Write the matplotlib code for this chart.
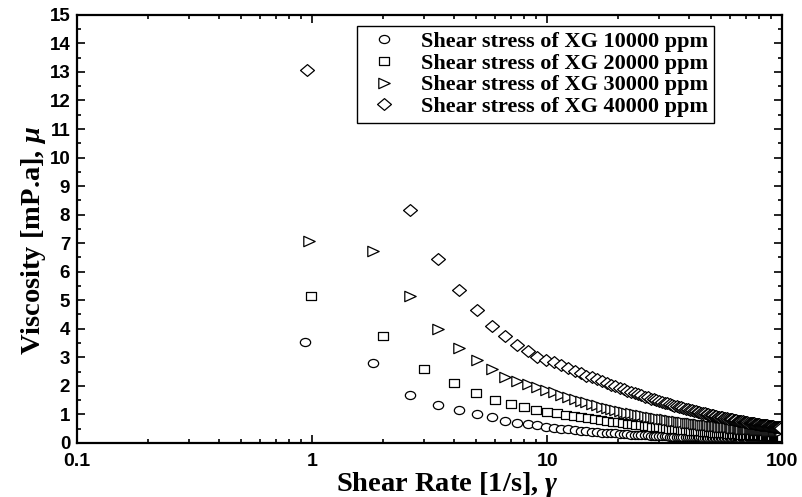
import numpy as np
import matplotlib
matplotlib.use('Agg')
import matplotlib.pyplot as plt
from matplotlib.path import Path
from matplotlib.transforms import Affine2D
from matplotlib.ticker import FixedLocator, LogLocator, MultipleLocator, NullFormatter

# shear rate sweep shared by the 10000, 30000 and 40000 ppm runs [1/s]
shear_rate = [
    1.82, 2.62, 3.43, 4.23, 5.04, 5.84, 6.65, 7.45, 8.26, 9.06,
    9.87, 10.67, 11.48, 12.28, 13.09, 13.89, 14.70, 15.50, 16.31, 17.11,
    17.92, 18.72, 19.53, 20.33, 21.14, 21.94, 22.75, 23.55, 24.36, 25.16,
    25.97, 26.77, 27.58, 28.38, 29.19, 29.99, 30.80, 31.60, 32.41, 33.21,
    34.02, 34.82, 35.63, 36.43, 37.24, 38.04, 38.85, 39.65, 40.46, 41.26,
    42.07, 42.87, 43.68, 44.48, 45.29, 46.09, 46.90, 47.70, 48.51, 49.31,
    50.12, 50.92, 51.73, 52.53, 53.34, 54.14, 54.95, 55.75, 56.56, 57.36,
    58.17, 58.97, 59.78, 60.58, 61.39, 62.19, 63.00, 63.80, 64.61, 65.41,
    66.22, 67.02, 67.83, 68.63, 69.44, 70.24, 71.05, 71.85, 72.66, 73.46,
    74.27, 75.07, 75.88, 76.68, 77.49, 78.29, 79.10, 79.90, 80.71, 81.51,
    82.32, 83.12, 83.93, 84.73, 85.54, 86.34, 87.15, 87.95, 88.76, 89.56,
    90.37, 91.17, 91.98, 92.78, 93.59, 94.39, 95.20, 96.00, 96.81, 97.61,
    98.42, 99.22,
]

# first (lowest) reading of each of those three runs
start_rate = [0.93, 0.97, 0.95]
start_viscosity = [3.53, 7.08, 13.07]

visc_10000 = [
    2.79, 1.68, 1.33, 1.16, 1.00, 0.89, 0.77, 0.69, 0.65, 0.61,
    0.57, 0.53, 0.50, 0.47, 0.45, 0.43, 0.41, 0.39, 0.37, 0.36,
    0.35, 0.34, 0.33, 0.32, 0.31, 0.30, 0.29, 0.28, 0.28, 0.27,
    0.26, 0.26, 0.25, 0.25, 0.24, 0.24, 0.24, 0.23, 0.23, 0.22,
    0.22, 0.22, 0.21, 0.21, 0.21, 0.21, 0.20, 0.20, 0.20, 0.20,
    0.19, 0.19, 0.19, 0.19, 0.19, 0.18, 0.18, 0.18, 0.18, 0.18,
    0.18, 0.17, 0.17, 0.17, 0.17, 0.17, 0.17, 0.17, 0.16, 0.16,
    0.16, 0.16, 0.16, 0.16, 0.16, 0.16, 0.16, 0.16, 0.15, 0.15,
    0.15, 0.15, 0.15, 0.15, 0.15, 0.15, 0.15, 0.15, 0.15, 0.15,
    0.14, 0.14, 0.14, 0.14, 0.14, 0.14, 0.14, 0.14, 0.14, 0.14,
    0.14, 0.14, 0.14, 0.14, 0.14, 0.14, 0.13, 0.13, 0.13, 0.13,
    0.13, 0.13, 0.13, 0.13, 0.13, 0.13, 0.13, 0.13, 0.13, 0.13,
    0.13, 0.13,
]

visc_30000 = [
    6.73, 5.13, 3.98, 3.34, 2.91, 2.58, 2.32, 2.17, 2.05, 1.95,
    1.86, 1.78, 1.69, 1.61, 1.54, 1.47, 1.42, 1.36, 1.31, 1.27,
    1.23, 1.19, 1.15, 1.12, 1.09, 1.06, 1.03, 1.01, 0.98, 0.96,
    0.94, 0.92, 0.90, 0.88, 0.86, 0.85, 0.83, 0.82, 0.80, 0.79,
    0.78, 0.76, 0.75, 0.74, 0.73, 0.72, 0.71, 0.70, 0.69, 0.68,
    0.67, 0.66, 0.65, 0.65, 0.64, 0.63, 0.62, 0.62, 0.61, 0.60,
    0.60, 0.59, 0.59, 0.58, 0.58, 0.57, 0.56, 0.56, 0.55, 0.55,
    0.54, 0.54, 0.54, 0.53, 0.53, 0.52, 0.52, 0.51, 0.51, 0.51,
    0.50, 0.50, 0.50, 0.49, 0.49, 0.49, 0.48, 0.48, 0.48, 0.47,
    0.47, 0.47, 0.47, 0.46, 0.46, 0.46, 0.45, 0.45, 0.45, 0.45,
    0.44, 0.44, 0.44, 0.44, 0.44, 0.43, 0.43, 0.43, 0.43, 0.42,
    0.42, 0.42, 0.42, 0.42, 0.41, 0.41, 0.41, 0.41, 0.41, 0.41,
    0.40, 0.40,
]

# no reading near 1.8 1/s for the 40000 ppm run
visc_40000 = [
    np.nan, 8.17, 6.44, 5.36, 4.64, 4.11, 3.73, 3.43, 3.22, 3.02,
    2.91, 2.83, 2.72, 2.62, 2.53, 2.44, 2.36, 2.29, 2.22, 2.15,
    2.09, 2.03, 1.98, 1.93, 1.88, 1.83, 1.78, 1.74, 1.70, 1.66,
    1.62, 1.59, 1.55, 1.52, 1.49, 1.46, 1.43, 1.40, 1.38, 1.35,
    1.33, 1.30, 1.28, 1.26, 1.24, 1.22, 1.20, 1.18, 1.16, 1.14,
    1.12, 1.10, 1.09, 1.07, 1.06, 1.04, 1.03, 1.01, 1.00, 0.98,
    0.97, 0.96, 0.95, 0.93, 0.92, 0.91, 0.90, 0.89, 0.88, 0.87,
    0.86, 0.85, 0.84, 0.83, 0.82, 0.81, 0.80, 0.79, 0.78, 0.77,
    0.77, 0.76, 0.75, 0.74, 0.74, 0.73, 0.72, 0.71, 0.71, 0.70,
    0.69, 0.69, 0.68, 0.67, 0.67, 0.66, 0.66, 0.65, 0.64, 0.64,
    0.63, 0.63, 0.62, 0.62, 0.61, 0.61, 0.60, 0.60, 0.59, 0.59,
    0.58, 0.58, 0.57, 0.57, 0.56, 0.56, 0.56, 0.55, 0.55, 0.54,
    0.54, 0.53,
]

# the 20000 ppm run was sampled on its own, roughly one reading per 1/s
rate_20000 = [
    0.99, 2, 3, 4, 5, 6, 7, 8, 9, 10,
    11, 12, 13, 14, 15, 16, 17, 18, 19, 20,
    21, 22, 23, 24, 25, 26, 27, 28, 29, 30,
    31, 32, 33, 34, 35, 36, 37, 38, 39, 40,
    41, 42, 43, 44, 45, 46, 47, 48, 49, 50,
    51, 52, 53, 54, 55, 56, 57, 58, 59, 60,
    61, 62, 63, 64, 65, 66, 67, 68, 69, 70,
    71, 72, 73, 74, 75, 76, 77, 78, 79, 80,
    81, 82, 83, 84, 85, 86, 87, 88, 89, 90,
    91, 92, 93, 94, 95, 96, 97, 98, 99, 100,
]
visc_20000 = [
    5.16, 3.73, 2.58, 2.09, 1.74, 1.51, 1.36, 1.24, 1.15, 1.08,
    1.04, 0.99, 0.95, 0.90, 0.87, 0.83, 0.80, 0.77, 0.74, 0.72,
    0.70, 0.67, 0.65, 0.63, 0.62, 0.60, 0.58, 0.57, 0.55, 0.54,
    0.53, 0.52, 0.50, 0.49, 0.48, 0.47, 0.46, 0.45, 0.44, 0.44,
    0.43, 0.42, 0.41, 0.41, 0.40, 0.39, 0.39, 0.38, 0.37, 0.37,
    0.36, 0.36, 0.35, 0.35, 0.34, 0.34, 0.33, 0.33, 0.32, 0.32,
    0.32, 0.31, 0.31, 0.30, 0.30, 0.30, 0.29, 0.29, 0.29, 0.28,
    0.28, 0.28, 0.27, 0.27, 0.27, 0.27, 0.26, 0.26, 0.26, 0.26,
    0.25, 0.25, 0.25, 0.25, 0.24, 0.24, 0.24, 0.24, 0.24, 0.23,
    0.23, 0.23, 0.23, 0.23, 0.22, 0.22, 0.22, 0.22, 0.22, 0.22,
]

series_labels = [
    'Shear stress of XG 10000 ppm',
    'Shear stress of XG 20000 ppm',
    'Shear stress of XG 30000 ppm',
    'Shear stress of XG 40000 ppm',
]

x_ticks = [0.1, 1, 10, 100]
x_tick_labels = ['0.1', '1', '10', '100']
y_ticks = list(range(0, 16))


def wide_marker(verts, stretch):
    # open symbols drawn a little wider than tall
    path = Path(verts, closed=True)
    return path.transformed(Affine2D().scale(stretch, 1.0))


circle_marker = Path.unit_circle().transformed(Affine2D().scale(1.27, 1.0))
square_marker = wide_marker([(-1, -1), (1, -1), (1, 1), (-1, 1), (-1, -1)], 1.3)
triangle_marker = wide_marker([(-1, -1), (1, 0), (-1, 1), (-1, -1)], 1.1)
diamond_marker = wide_marker([(0, 1), (1, 0), (0, -1), (-1, 0), (0, 1)], 1.18)


def main():
    plt.rcParams['font.family'] = 'Liberation Sans'
    plt.rcParams['font.weight'] = 'bold'
    plt.rcParams['mathtext.fontset'] = 'custom'
    plt.rcParams['mathtext.rm'] = 'Liberation Serif:bold'
    plt.rcParams['mathtext.it'] = 'Liberation Serif:italic:bold'
    plt.rcParams['mathtext.bf'] = 'Liberation Serif:bold'

    fig = plt.figure(figsize=(8.03, 4.97), dpi=100)
    ax = fig.add_axes([0.096, 0.109, 0.878, 0.861])

    style = dict(linestyle='none', markerfacecolor='white', markeredgecolor='black',
                 markeredgewidth=0.9)
    ax.plot([start_rate[0]] + shear_rate, [start_viscosity[0]] + visc_10000,
            marker=circle_marker, markersize=7.4, label=series_labels[0], **style)
    ax.plot(rate_20000, visc_20000,
            marker=square_marker, markersize=7.0, label=series_labels[1], **style)
    ax.plot([start_rate[1]] + shear_rate, [start_viscosity[1]] + visc_30000,
            marker=triangle_marker, markersize=8.2, label=series_labels[2], **style)
    ax.plot([start_rate[2]] + shear_rate, [start_viscosity[2]] + visc_40000,
            marker=diamond_marker, markersize=10.0, label=series_labels[3], **style)

    ax.set_xscale('log')
    ax.set_xlim(0.1, 100)
    ax.set_ylim(0, 15)
    ax.xaxis.set_major_locator(FixedLocator(x_ticks))
    ax.set_xticklabels(x_tick_labels)
    ax.xaxis.set_minor_locator(LogLocator(base=10, subs=np.arange(2, 10)))
    ax.xaxis.set_minor_formatter(NullFormatter())
    ax.set_yticks(y_ticks)
    ax.yaxis.set_minor_locator(MultipleLocator(0.5))

    for spine in ax.spines.values():
        spine.set_linewidth(1.6)
    ax.tick_params(which='both', direction='in', top=True, right=True, width=1.2)
    ax.tick_params(which='major', length=6)
    ax.tick_params(which='minor', length=3)
    ax.tick_params(axis='x', which='major', labelsize=14, pad=7)
    ax.tick_params(axis='y', which='major', labelsize=13.5, pad=5)

    ax.set_xlabel('Shear Rate [1/s], $\\gamma$', fontfamily='Liberation Serif',
                  fontweight='bold', fontsize=20.5, labelpad=0, x=0.525)
    ax.set_ylabel('Viscosity [mP.a], $\\mu$', fontfamily='Liberation Serif',
                  fontweight='bold', fontsize=20.5, labelpad=1, y=0.474)

    legend = ax.legend(loc='upper left', bbox_to_anchor=(0.397, 0.974),
                       prop={'family': 'Liberation Serif', 'weight': 'bold', 'size': 16},
                       frameon=True, fancybox=False, framealpha=1, edgecolor='black',
                       borderpad=0.25, labelspacing=0.05, handletextpad=0.75,
                       handlelength=1.9, borderaxespad=0)
    legend.get_frame().set_linewidth(1.0)

    fig.savefig('out.png', dpi=100)


if __name__ == '__main__':
    main()
